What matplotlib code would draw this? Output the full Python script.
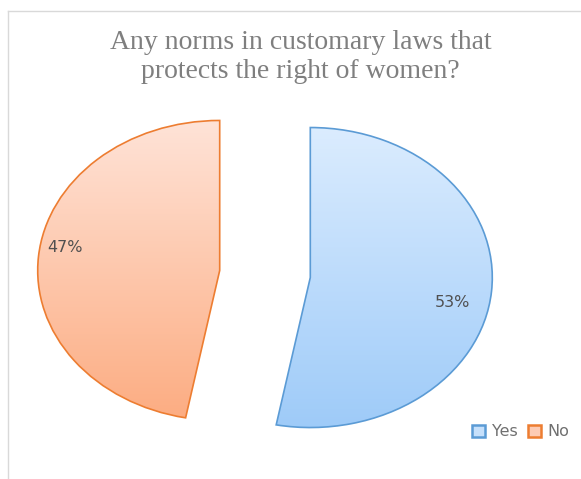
import numpy as np
import matplotlib.pyplot as plt
from matplotlib.colors import LinearSegmentedColormap
from matplotlib.lines import Line2D

# Data
labels = ["Yes", "No"]
shares = [53, 47]
explode = [0.25, 0.25]
edge_colors = ["#5B9BD5", "#ED7D31"]
top_colors = ["#E2F0FF", "#FFE8DF"]
bottom_colors = ["#99C8F8", "#FCA678"]

fig = plt.figure(figsize=(5.81, 4.79), dpi=100)
fig.patch.set_facecolor("white")

# Plot area: pie is stretched horizontally (182 px x 150 px per unit)
W, H = 581, 479
ax = fig.add_axes([10.2 / W, 25 / H, 509.6 / W, 360 / H])
wedges, texts = ax.pie(shares, explode=explode, startangle=90, counterclock=False,
                       wedgeprops=dict(linewidth=1.2), labels=None)
ax.set_aspect("auto")
ax.axis("off")

grad = np.linspace(0, 1, 256).reshape(-1, 1)
for w, ec, c0, c1 in zip(wedges, edge_colors, top_colors, bottom_colors):
    w.set_facecolor("none")
    w.set_edgecolor(ec)
    w.set_zorder(3)
    cmap = LinearSegmentedColormap.from_list("g", [c0, c1])
    im = ax.imshow(grad, cmap=cmap, extent=(-1.4, 1.4, -1.2, 1.2),
                   origin="upper", aspect="auto", zorder=2)
    im.set_clip_path(w)

# Percentage labels, placed relative to each wedge's centre
label_offsets = [(0.78, -0.165), (-0.85, 0.15)]
for w, s, (dx, dy) in zip(wedges, shares, label_offsets):
    cx, cy = w.center
    ax.text(cx + dx, cy + dy, f"{s}%", ha="center", va="center",
            fontsize=11.5, color="#505050", zorder=4)

ax.set_xlim(-1.4, 1.4)
ax.set_ylim(-1.2, 1.2)

# Title
fig.text(0.517, 1 - 57 / H, "Any norms in customary laws that\nprotects the right of women?",
         ha="center", va="center", fontsize=20, family="Liberation Serif",
         color="#7F7F7F", linespacing=1.26)

# Legend
handles = [plt.Rectangle((0, 0), 1, 1, facecolor=c0, edgecolor=ec, linewidth=1.8)
           for c0, ec in zip(["#C6E0FB", "#FDCBB4"], edge_colors)]
fig.legend(handles, labels, loc="center left", bbox_to_anchor=(458 / W, 1 - 432 / H),
           ncol=2, frameon=False, fontsize=11.5, handlelength=0.8, handleheight=0.8,
           handletextpad=0.4, columnspacing=0.7, labelcolor="#707070")

# Chart border (top and left visible)
fig.add_artist(Line2D([8 / W, 1.0], [1 - 11 / H, 1 - 11 / H], color="#D9D9D9", lw=1))
fig.add_artist(Line2D([8 / W, 8 / W], [0, 1 - 11 / H], color="#D9D9D9", lw=1))

fig.savefig("out.png", dpi=100)
